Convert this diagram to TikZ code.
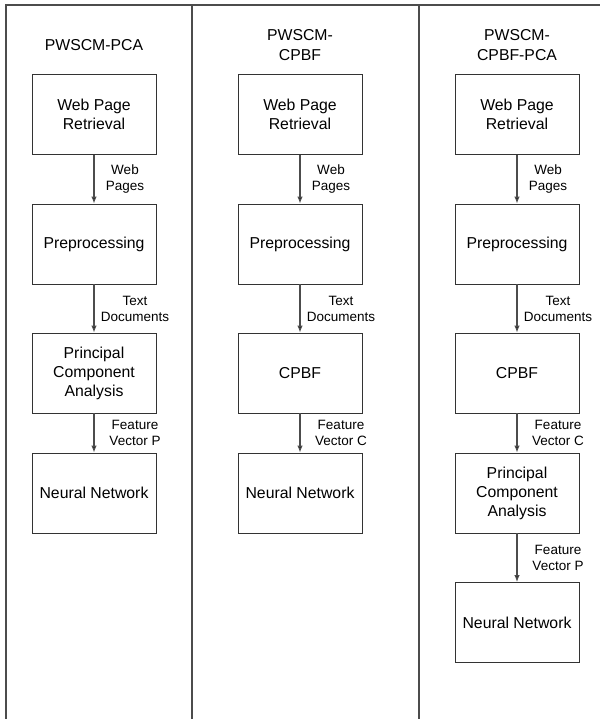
\documentclass[tikz,border=0pt]{standalone}
\usepackage{fontspec}
\setmainfont{Liberation Sans}
\usetikzlibrary{arrows.meta}

\begin{document}
\begin{tikzpicture}
  [x=1pt,y=-1pt]
      \tikzstyle{box_style} = [draw=black!80, line width=0.8pt, minimum width=124pt, minimum height=80pt, inner sep=0pt, align=center, font=\fontsize{15.8}{19}\selectfont]
      \tikzstyle{title_style} = [align=center, font=\fontsize{15.8}{20}\selectfont]
      \tikzstyle{edge_style} = [draw=black!70, line width=1.2pt, -{Latex[length=7pt,width=5.5pt,fill=black]}]
      \tikzstyle{label_style} = [align=center, xshift=41pt, font=\fontsize{13.5}{16}\selectfont]
      \tikzstyle{frame_style} = [draw=black!70, line width=1.2pt]
  \useasboundingbox (0,0) rectangle (600,719);
  % frame and column dividers
  \draw[frame_style] (6,719) -- (6,5) -- (600,5);
  \draw[frame_style] (192,5) -- (192,719);
  \draw[frame_style] (419,5) -- (419,719);
  % PWSCM-PCA
  \node[title_style] (t1) at (94,45) {PWSCM-PCA};
  \node[box_style] (a1) at (94,114.5) {Web Page\\Retrieval};
  \node[box_style] (a2) at (94,244) {Preprocessing};
  \node[box_style] (a3) at (94,373) {Principal\\Component\\Analysis};
  \node[box_style] (a4) at (94,493) {Neural Network};
  \draw[edge_style] (a1) edge node[label_style, xshift=-10pt] {Web\\Pages} (a2);
  \draw[edge_style] (a2) edge node[label_style] {Text\\Documents} (a3);
  \draw[edge_style] (a3) edge node[label_style] {Feature\\Vector P} (a4);
  % PWSCM-CPBF
  \node[title_style] (t2) at (300,45) {PWSCM-\\CPBF};
  \node[box_style] (b1) at (300,114.5) {Web Page\\Retrieval};
  \node[box_style] (b2) at (300,244) {Preprocessing};
  \node[box_style] (b3) at (300,373) {CPBF};
  \node[box_style] (b4) at (300,493) {Neural Network};
  \draw[edge_style] (b1) edge node[label_style, xshift=-10pt] {Web\\Pages} (b2);
  \draw[edge_style] (b2) edge node[label_style] {Text\\Documents} (b3);
  \draw[edge_style] (b3) edge node[label_style] {Feature\\Vector C} (b4);
  % PWSCM-CPBF-PCA
  \node[title_style] (t3) at (517,45) {PWSCM-\\CPBF-PCA};
  \node[box_style] (c1) at (517,114.5) {Web Page\\Retrieval};
  \node[box_style] (c2) at (517,244) {Preprocessing};
  \node[box_style] (c3) at (517,373) {CPBF};
  \node[box_style] (c4) at (517,493) {Principal\\Component\\Analysis};
  \node[box_style] (c5) at (517,622.5) {Neural Network};
  \draw[edge_style] (c1) edge node[label_style, xshift=-10pt] {Web\\Pages} (c2);
  \draw[edge_style] (c2) edge node[label_style] {Text\\Documents} (c3);
  \draw[edge_style] (c3) edge node[label_style] {Feature\\Vector C} (c4);
  \draw[edge_style] (c4) edge node[label_style] {Feature\\Vector P} (c5);
\end{tikzpicture}
\end{document}
